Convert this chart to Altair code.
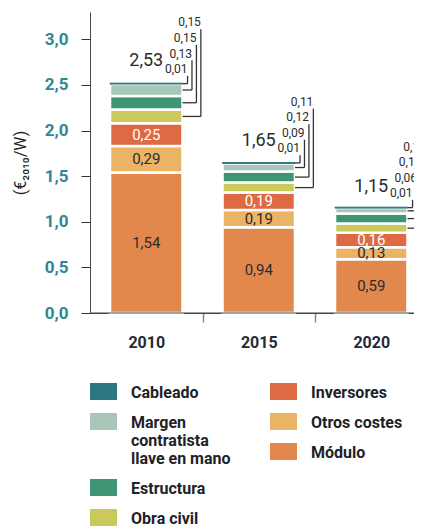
import altair as alt
import pandas as pd

# ---- data ----
years = ["2010", "2015", "2020"]
# stack order, bottom -> top
categories = ["Módulo", "Otros costes", "Inversores", "Obra civil", "Estructura",
              "Margen contratista llave en mano", "Cableado"]
modulo = [1.54, 0.94, 0.59]
otros_costes = [0.29, 0.19, 0.13]
inversores = [0.25, 0.19, 0.16]
obra_civil = [0.15, 0.11, 0.10]
estructura = [0.15, 0.12, 0.11]
margen = [0.13, 0.09, 0.06]
cableado = [0.01, 0.01, 0.01]
totals = [2.53, 1.65, 1.15]

colors = ["#E3884C", "#EBB365", "#DD6A43", "#C9CA5B", "#3E9473", "#A9C7B8", "#2C7780"]

series = [modulo, otros_costes, inversores, obra_civil, estructura, margen, cableado]

rows = []
for p, y in enumerate(years):
    for o, (cat, vals) in enumerate(zip(categories, series)):
        rows.append({"year": y, "pos": p, "category": cat, "order": o, "value": vals[p]})
df = pd.DataFrame(rows)
tot_df = pd.DataFrame({"year": years, "pos": list(range(len(years))), "total": totals})

FONT = "Roboto"
DARK = "#2b2b2b"

x_scale = alt.Scale(domain=[0, 2.88], nice=False, zero=False)
y_scale = alt.Scale(domain=[0, 3.30], nice=False)

year_arr = "[" + ",".join("'" + y + "'" for y in years) + "]"
x_axis = alt.Axis(
    values=[0.5, 1, 1.5, 2, 2.5],
    labelExpr=f"datum.value % 1 == 0.5 ? {year_arr}[floor(datum.value)] : ''",
    tickOpacity={"condition": {"test": "datum.value % 1 == 0", "value": 1}, "value": 0},
    tickSize=9, tickColor="#888888", tickWidth=1.5,
    labelPadding=12, labelFontSize=16, labelFontWeight="bold", labelColor="#242a36",
    labelFont=FONT, labelOverlap=False, labelFlush=False,
    domainColor="#444444", grid=False, title=None,
)
y_axis = alt.Axis(
    values=[0, 0.5, 1.0, 1.5, 2.0, 2.5, 3.0],
    labelExpr="replace(format(datum.value, '.1f'), '.', ',')",
    labelFont=FONT, labelFontSize=17, labelFontWeight="bold", labelColor="#2E8797",
    tickSize=9, tickColor="#333333", labelPadding=13,
    domainColor="#444444", grid=False,
    title="(€₂₀₁₀/W)", titleFont=FONT, titleFontSize=16, titleFontWeight="normal",
    titleColor="#222222", titlePadding=16,
)

sym_path = "M-1,-0.11H1V1.15H-1Z"
multi = ("datum.label == 'Margen contratista llave en mano' ? "
         "['Margen', 'contratista', 'llave en mano'] : datum.label")


def legend(x, y):
    return alt.Legend(
        orient="none", legendX=x, legendY=y, title=None, padding=0,
        symbolType=sym_path, symbolSize=729, symbolStrokeWidth=0,
        labelFont=FONT, labelFontSize=16, labelFontWeight="bold", labelColor="#1e2228",
        labelOffset=14, rowPadding=0, labelBaseline="top", labelLimit=250,
        labelExpr=multi,
    )


top_cats = categories[3:][::-1]       # Cableado, Margen, Estructura, Obra civil
top_cols = colors[3:][::-1]
bot_cats = categories[:3][::-1]       # Inversores, Otros costes, Módulo
bot_cols = colors[:3][::-1]

base = (
    alt.Chart(df)
    .transform_stack(stack="value", groupby=["year"], as_=["y0", "y1"],
                     sort=[alt.SortField("order", "ascending")])
    .transform_joinaggregate(top="max(y1)", groupby=["year"])
    .transform_calculate(
        ymid="(datum.y0 + datum.y1) / 2",
        label="replace(format(datum.value, '.2f'), '.', ',')",
        xc="datum.pos + 0.5",
        xl="datum.pos + 0.5 - 0.322",
        xr="datum.pos + 0.5 + 0.322",
        k="6 - datum.order",
    )
    .transform_calculate(
        xv="datum.xr + 0.045 + 0.0395 * datum.k",
        ly="datum.top + 0.155 + 0.17 * datum.k",
    )
    .transform_calculate(lyb="datum.ly - 0.075")
)

X = lambda f: alt.X(f, scale=x_scale, axis=x_axis)
Y = lambda f: alt.Y(f, scale=y_scale, axis=y_axis)

bars_bottom = base.transform_filter("datum.order <= 2").mark_rect(
    stroke="white", strokeWidth=2.5
).encode(
    x=X("xl:Q"), x2="xr:Q", y=Y("y0:Q"), y2="y1:Q",
    color=alt.Color("category:N", scale=alt.Scale(domain=bot_cats, range=bot_cols),
                    legend=legend(180, 359)),
)

bars_top = base.transform_filter("datum.order >= 3").mark_rect().encode(
    x=X("xl:Q"), x2="xr:Q", y=Y("y0:Q"), y2="y1:Q",
    color=alt.Color("category:N", scale=alt.Scale(domain=top_cats, range=top_cols),
                    legend=legend(0, 359)),
    stroke=alt.condition("datum.category == 'Cableado'", alt.value(colors[6]), alt.value("white")),
    strokeWidth=alt.condition("datum.category == 'Cableado'", alt.value(1), alt.value(2.5)),
)

inner_labels = base.transform_filter("datum.order <= 2").mark_text(
    font=FONT, fontSize=15, baseline="middle"
).encode(
    x=X("xc:Q"), y=Y("ymid:Q"), text="label:N",
    fill=alt.condition("datum.category == 'Inversores'", alt.value("white"), alt.value(DARK)),
)

lead_h = base.transform_filter("datum.order >= 3").mark_rule(color="#333333", strokeWidth=1.3).encode(
    x=X("xr:Q"), x2="xv:Q", y=Y("ymid:Q"),
)
lead_v = base.transform_filter("datum.order >= 3").mark_rule(color="#333333", strokeWidth=1.3).encode(
    x=X("xv:Q"), y=Y("ymid:Q"), y2="lyb:Q",
)
lead_lbl = base.transform_filter("datum.order >= 3").mark_text(
    font=FONT, fontSize=12, align="right", dx=0, baseline="middle", color=DARK
).encode(
    x=X("xv:Q"), y=Y("ly:Q"), text="label:N",
)

total_lbl = (
    alt.Chart(tot_df)
    .transform_calculate(
        xc="datum.pos + 0.5",
        ty="datum.total + 0.235",
        txt="replace(format(datum.total, '.2f'), '.', ',')",
    )
    .mark_text(font=FONT, fontSize=18, color=DARK, baseline="middle")
    .encode(x=X("xc:Q"), y=Y("ty:Q"), text="txt:N")
)

# x-axis baseline continues to the right edge of the figure
axis_ext = (
    alt.Chart(pd.DataFrame({"v": [0]}))
    .mark_rule(color="#444444", strokeWidth=1)
    .encode(x=alt.X("v:Q", scale=x_scale, axis=x_axis), x2=alt.datum(2.96),
            y=alt.Y("v:Q", scale=y_scale, axis=y_axis))
)

chart = (
    alt.layer(bars_bottom, bars_top, inner_labels, lead_h, lead_v, lead_lbl, total_lbl, axis_ext)
    .resolve_scale(color="independent")
    .properties(
        width=324, height=301,
        autosize=alt.AutoSizeParams(type="none"),
        padding={"left": 82, "top": 4, "right": 0, "bottom": 214},
        background="white",
    )
    .configure_view(stroke=None)
)

chart.save("out.html", embed_options={"renderer": "svg", "actions": False})
